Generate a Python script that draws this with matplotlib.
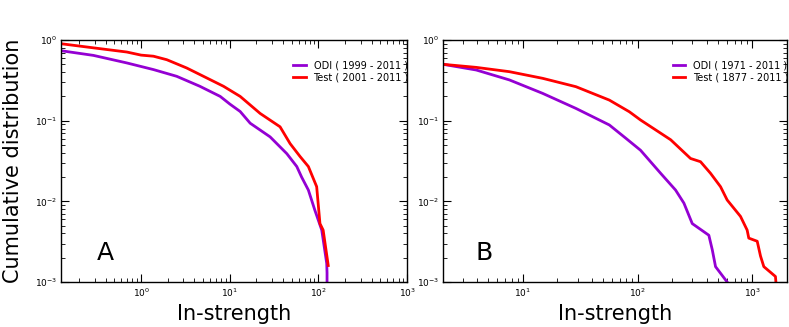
import matplotlib
matplotlib.use("Agg")
import matplotlib.pyplot as plt
from matplotlib.ticker import LogLocator, NullFormatter

# Panel A : ODI (1999-2011) and Test (2001-2011)
a_odi_x = [0.125, 0.29, 0.69, 1.38, 2.52, 4.6, 7.8, 10, 13.1, 17, 28.5, 44, 57, 64.6, 77, 91, 109, 124, 125, 125]
a_odi_y = [0.737, 0.645, 0.52, 0.43, 0.355, 0.267, 0.20, 0.161, 0.13, 0.093, 0.063, 0.039, 0.027, 0.020, 0.0138, 0.0078, 0.0044, 0.0017, 0.0013, 0.001]
a_test_x = [0.125, 0.29, 0.69, 1.0, 1.38, 1.95, 3.27, 5.05, 8.5, 13.1, 22, 36.9, 47.9, 62, 77, 95.5, 104, 113, 129]
a_test_y = [0.90, 0.80, 0.71, 0.65, 0.63, 0.57, 0.45, 0.355, 0.267, 0.20, 0.123, 0.084, 0.052, 0.036, 0.027, 0.0152, 0.0053, 0.0044, 0.0016]

# Panel B : ODI (1971-2011) and Test (1877-2011)
b_odi_x = [2.02, 3.93, 7.65, 14.9, 29, 56.7, 79, 106, 158.5, 214, 253, 299, 417, 447, 477, 602]
b_odi_y = [0.50, 0.425, 0.32, 0.218, 0.142, 0.0885, 0.0605, 0.043, 0.0223, 0.0138, 0.0095, 0.0053, 0.0038, 0.0025, 0.00155, 0.001]
b_test_x = [2.02, 3.93, 7.65, 14.9, 29, 56.7, 84.7, 106, 194, 289, 353, 431, 527, 602, 787, 899, 929, 1100, 1175, 1256, 1586, 1600]
b_test_y = [0.50, 0.458, 0.405, 0.335, 0.264, 0.18, 0.129, 0.102, 0.058, 0.034, 0.031, 0.0223, 0.0152, 0.0104, 0.0065, 0.0044, 0.0035, 0.0032, 0.0021, 0.00155, 0.00117, 0.001]

purple = "#9400D3"
red = "#FF0000"

fig = plt.figure(figsize=(7.89, 3.27), dpi=100)
ax_a = fig.add_axes([0.0773, 0.1376, 0.4387, 0.740])
ax_b = fig.add_axes([0.5615, 0.1376, 0.4360, 0.740])


def style_axis(ax, xlim):
    ax.set_xscale("log")
    ax.set_yscale("log")
    ax.set_xlim(*xlim)
    ax.set_ylim(1e-3, 1)
    ax.xaxis.set_major_locator(LogLocator(base=10))
    ax.yaxis.set_major_locator(LogLocator(base=10))
    ax.xaxis.set_minor_locator(LogLocator(base=10, subs=range(2, 10)))
    ax.yaxis.set_minor_locator(LogLocator(base=10, subs=range(2, 10)))
    ax.xaxis.set_minor_formatter(NullFormatter())
    ax.yaxis.set_minor_formatter(NullFormatter())
    ax.tick_params(which="both", direction="in", top=True, right=True,
                   labelsize=6.5, pad=3)
    ax.tick_params(which="major", length=6, width=0.8)
    ax.tick_params(which="minor", length=3, width=0.6)
    ax.set_xlabel("In-strength", fontsize=15)
    for s in ax.spines.values():
        s.set_linewidth(1.0)


# Panel A
ax_a.plot(a_odi_x, a_odi_y, color=purple, lw=2, label="ODI ( 1999 - 2011 )")
ax_a.plot(a_test_x, a_test_y, color=red, lw=2, label="Test ( 2001 - 2011 )")
style_axis(ax_a, (0.125, 1000))
ax_a.set_ylabel("Cumulative distribution", fontsize=15, labelpad=8)
ax_a.text(0.103, 0.09, "A", transform=ax_a.transAxes, fontsize=18)

# Panel B
ax_b.plot(b_odi_x, b_odi_y, color=purple, lw=2, label="ODI ( 1971 - 2011 )")
ax_b.plot(b_test_x, b_test_y, color=red, lw=2, label="Test ( 1877 - 2011 )")
style_axis(ax_b, (2.02, 2000))
ax_b.text(0.093, 0.09, "B", transform=ax_b.transAxes, fontsize=18)

for ax in (ax_a, ax_b):
    ax.legend(loc="upper right", fontsize=7, frameon=False, handlelength=1.3,
              handletextpad=0.8, labelspacing=0.2, bbox_to_anchor=(1.03, 0.95))

fig.savefig("out.png", dpi=100)
